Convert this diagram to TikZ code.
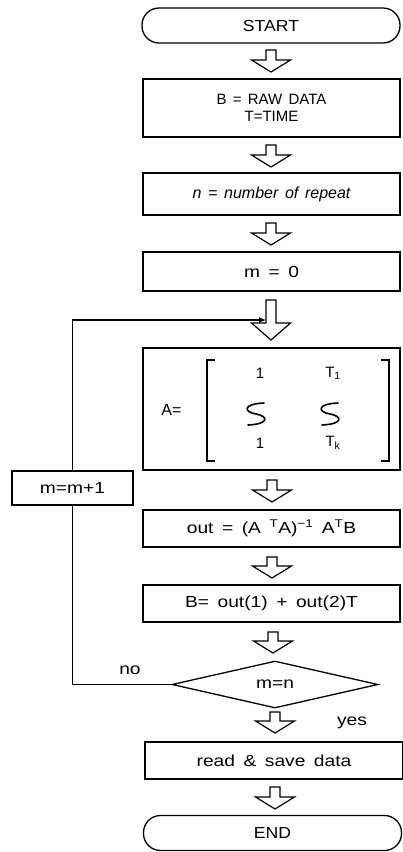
\documentclass[tikz,border=0pt]{standalone}
\usepackage{fontspec}
\setmainfont{Liberation Sans}
\newfontfamily\capf{Liberation Sans}
\newfontfamily\capw[FakeStretch=1.1]{Liberation Sans}
\newfontfamily\lowf[FakeStretch=1.2,WordSpace=1.6]{Liberation Sans}
\newfontfamily\itf[WordSpace=1.5]{Liberation Sans}
\usetikzlibrary{shapes.geometric,calc,arrows.meta}
\newcommand{\blockarrow}[4]{%
  \draw[barrow] (#1-5,#2) -- (#1+5,#2) -- (#1+5,#3) -- (#1+19.5,#3) -- (#1,#4) -- (#1-19.5,#3) -- (#1-5,#3) -- cycle;}
\newcommand{\squig}[2]{%
  \draw[line width=1.6pt,line cap=round] (#1+8,#2-11) .. controls (#1-14,#2-10) and (#1-12,#2-2) .. (#1,#2) .. controls (#1+12,#2+2) and (#1+14,#2+10) .. (#1-8,#2+11);}
\begin{document}
\begin{tikzpicture}[x=1pt,y=-1pt,
  every node/.style={font=\capf\fontsize{16}{18}\selectfont},
  low/.style={font=\lowf\fontsize{16}{18}\selectfont},
  wide/.style={font=\capw\fontsize{16}{18}\selectfont},
  box/.style={draw,line width=1.3pt,rectangle,minimum width=257pt,inner sep=0pt,align=center},
  term/.style={draw,line width=1.3pt,rectangle,rounded corners=17pt,minimum width=258pt,minimum height=35pt,inner sep=0pt},
  barrow/.style={draw,line width=1.2pt,fill=white,line join=miter},
  conn/.style={line width=1.2pt},
  entry/.style={font=\capf\fontsize{15}{17}\selectfont,inner sep=0pt},
]
\useasboundingbox (0,0) rectangle (403,852);

\node[term,wide] (start) at (271,25.5) {START};
\node[box,minimum height=58pt,font=\capf\fontsize{15}{17}\selectfont] (raw) at (271.5,108) {B = RAW DATA\\T=TIME};
\node[box,minimum height=42pt,font=\itf\fontsize{16}{18}\selectfont] (nrep) at (271.5,194) {\itshape n = number of repeat};
\node[box,low,minimum height=39pt] (mzero) at (271.5,271.5) {m = 0};
\node[box,minimum height=122pt] (amat) at (271.5,409) {};
\node[box,low,minimum height=37pt] (outb) at (271.5,528.5) {out = (A \textsuperscript{T}A)\textsuperscript{−1} A\textsuperscript{T}B};
\node[box,low,minimum height=37pt] (beq) at (271.5,603.5) {B= out(1) + out(2)T};
\node[draw,line width=1.3pt,diamond,minimum width=206pt,minimum height=47pt,inner sep=0pt,low] (dia) at (275,684.5) {m=n};
\node[box,low,minimum height=37pt,minimum width=258pt] (read) at (274,760.5) {read \& save data};
\node[term,wide] (endn) at (272.5,833) {END};
\node[box,low,minimum width=121pt,minimum height=34pt] (mm) at (72.5,488) {m=m+1};

% matrix contents
\node[inner sep=0pt] (aeq) at (171.5,410) {A=};
\draw[conn] (215,360) -- (207,360) -- (207,461) -- (215,461);
\draw[conn] (381,360) -- (389,360) -- (389,461) -- (381,461);
\node[entry] (a11) at (260,373) {1};
\node[entry] (a12) at (333,373) {T\textsubscript{1}};
\node[entry] (a21) at (260,443) {1};
\node[entry] (a22) at (333,443) {T\textsubscript{k}};
\squig{256}{414}
\squig{330}{414}

% block arrows
\blockarrow{271}{50}{60}{72}
\blockarrow{271}{145}{155}{167}
\blockarrow{271}{223}{233}{245}
\blockarrow{271}{300}{323}{340}
\blockarrow{272}{480}{490}{502}
\blockarrow{272}{557}{566}{578}
\blockarrow{273}{632}{641}{653}
\blockarrow{275}{712}{721}{733}
\blockarrow{275}{787}{797}{809}

% loop
\coordinate (loopin) at (266,320);
\draw[conn] (dia.west) -- (dia.west -| mm.south) -- (mm.south);
\draw[conn,-{Latex[length=7pt,width=6pt]}] (mm.north) |- (loopin);

\node[low] (no) at (130,670) {no};
\node[low] (yes) at (352,723) {yes};
\end{tikzpicture}
\end{document}
